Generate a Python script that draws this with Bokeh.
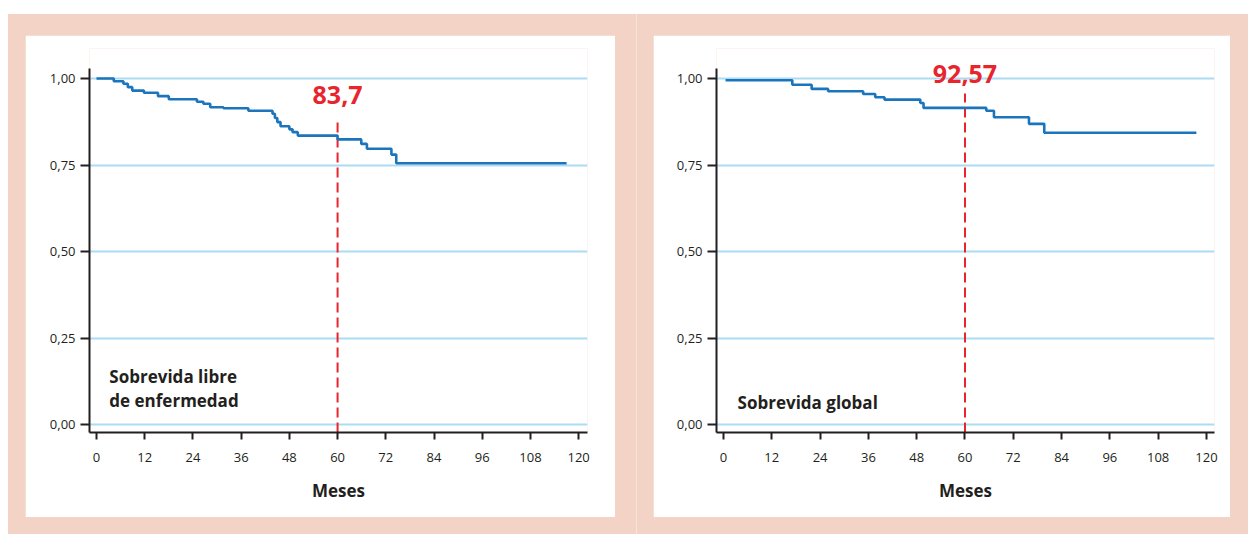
from bokeh.plotting import figure
from bokeh.models import Range1d, FixedTicker, Label, Spacer
from bokeh.layouts import row, column
from bokeh.embed import file_html
from bokeh.resources import INLINE

# ---- data ----
x_ticks = [0, 12, 24, 36, 48, 60, 72, 84, 96, 108, 120]
y_ticks = [0.0, 0.25, 0.5, 0.75, 1.0]
y_tick_labels = ["0,00", "0,25", "0,50", "0,75", "1,00"]

dfs_months = [0, 4.3, 6.7, 7.8, 8.9, 11.8, 15.3, 18.0, 25.0, 26.6, 28.3, 31.6, 37.8,
              43.8, 44.4, 45.0, 45.8, 48.0, 48.8, 50.1, 60.0, 65.9, 67.3, 73.4, 74.6, 117.0]
dfs_surv = [1.0, 0.992, 0.985, 0.975, 0.965, 0.959, 0.949, 0.940, 0.933, 0.927, 0.917, 0.914, 0.907,
            0.898, 0.886, 0.874, 0.862, 0.853, 0.845, 0.835, 0.824, 0.811, 0.797, 0.780, 0.755, 0.755]

os_months = [0.5, 17.1, 21.9, 26.0, 34.7, 37.7, 40.0, 48.9, 49.7, 65.3, 67.2, 75.9, 79.7, 117.5]
os_surv = [0.995, 0.982, 0.970, 0.963, 0.955, 0.946, 0.939, 0.929, 0.915, 0.907, 0.888, 0.869, 0.843, 0.843]

landmark_month = 60
dfs_label = "83,7"
os_label = "92,57"
dfs_title = ["Sobrevida libre", "de enfermedad"]
os_title = ["Sobrevida global"]
x_title = "Meses"

# ---- styles ----
FONT = "Open Sans"
TXT = "#231f20"
BLUE = "#1b75bc"
GRID = "#aadcf4"
RED = "#e8252c"
PINK = "#f2d3c6"
SEP = "#f8e4dc"

Y_LO, Y_AX_TOP, Y_HI = -0.0231, 1.0289, 1.0867


def make_panel(months, surv, x_end, width, mb_left, mb_right, label_text, label_y, dash_top,
               titles, title_x, title_ys):
    yr = Range1d(Y_LO, Y_HI)
    p = figure(width=width, height=482, x_range=Range1d(-1.74, x_end), y_range=yr,
               output_backend="svg", toolbar_location=None,
               min_border_left=mb_left, min_border_right=mb_right,
               min_border_top=13, min_border_bottom=85)
    p.background_fill_color = "white"
    p.border_fill_color = "white"
    p.outline_line_color = None
    p.xgrid.visible = False
    p.ygrid.ticker = FixedTicker(ticks=y_ticks)
    p.ygrid.grid_line_color = GRID
    p.ygrid.grid_line_width = 2

    p.xaxis.ticker = FixedTicker(ticks=x_ticks)
    p.yaxis.ticker = FixedTicker(ticks=y_ticks)
    p.yaxis.bounds = (Y_LO, Y_AX_TOP)
    p.yaxis.major_label_overrides = {t: l for t, l in zip(y_ticks, y_tick_labels)}
    for ax in (p.xaxis, p.yaxis):
        ax.axis_line_color = TXT
        ax.axis_line_width = 2
        ax.major_tick_line_color = TXT
        ax.major_tick_line_width = 2
        ax.minor_tick_line_color = None
        ax.major_tick_in = 0
        ax.major_label_text_font = FONT
        ax.major_label_text_font_size = "13px"
        ax.major_label_text_color = TXT
    p.xaxis.major_tick_out = 7
    p.yaxis.major_tick_out = 9
    p.xaxis.major_label_standoff = 13
    p.yaxis.major_label_standoff = 5
    p.xaxis.axis_label = x_title
    p.xaxis.axis_label_text_font = FONT
    p.xaxis.axis_label_text_font_style = "bold"
    p.xaxis.axis_label_text_font_size = "17px"
    p.xaxis.axis_label_text_color = TXT
    p.xaxis.axis_label_standoff = 14

    p.segment(x0=[landmark_month], y0=[Y_LO], x1=[landmark_month], y1=[dash_top],
              line_color=RED, line_width=2, line_dash="10 5")
    p.step(x=months, y=surv, mode="after", line_color=BLUE, line_width=2.6)

    p.add_layout(Label(x=landmark_month, y=label_y, text=label_text, text_align="center",
                       text_baseline="middle", text_font=FONT, text_font_style="bold",
                       text_font_size="25px", text_color=RED))
    for t, ty in zip(titles, title_ys):
        p.add_layout(Label(x=title_x, y=ty, text=t, text_align="left", text_baseline="middle",
                           text_font=FONT, text_font_style="bold", text_font_size="17px",
                           text_color=TXT))
    return p


p1 = make_panel(dfs_months, dfs_surv, 122.2, 590, 64, 28, dfs_label, 0.951, 0.879,
                dfs_title, 3.2, [0.139, 0.068])
p2 = make_panel(os_months, os_surv, 122.0, 577, 63, 16, os_label, 1.014, 0.957,
                os_title, 3.5, [0.064])

left = column(Spacer(width=628, height=21),
              row(Spacer(width=17, height=482), p1, Spacer(width=21, height=482)),
              Spacer(width=628, height=17))
sep = Spacer(width=1, height=520, styles={"background-color": SEP})
right = column(Spacer(width=611, height=21),
               row(Spacer(width=16, height=482), p2, Spacer(width=18, height=482)),
               Spacer(width=611, height=17))
main = row(left, sep, right, styles={"background-color": PINK})
page = column(Spacer(width=1248, height=14), row(Spacer(width=8, height=520), main))

open("out.html", "w").write(file_html(page, INLINE))
